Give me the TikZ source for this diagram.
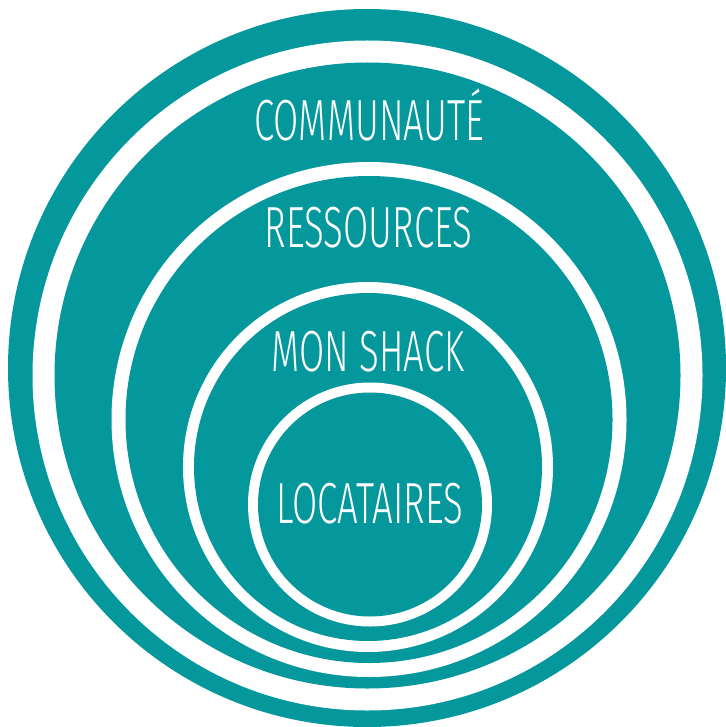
\documentclass[tikz,border=0pt]{standalone}
\usepackage{fontspec}
\newfontfamily\ringfont[FakeStretch=0.63]{Fira Sans Light}
\definecolor{shackteal}{RGB}{4,151,156}

\begin{document}
\begin{tikzpicture}[x=1pt,y=-1pt,
    disk/.style={fill=shackteal},
    gap/.style={fill=white},
    every node/.style={text=white,anchor=base,inner sep=0pt,
        font=\ringfont\fontsize{58}{58}\selectfont}]
    \useasboundingbox (0,0) rectangle (725,727);

    % outer to inner
    \fill[disk] (367,368) circle (359pt);
    \fill[gap]  (367.5,375.5) circle (335pt);
    \fill[disk] (367.5,375.5) circle (313pt);
    \fill[gap]  (369,419.5) circle (257.5pt);
    \fill[disk] (369,419.5) circle (243.5pt);
    \fill[gap]  (368,467) circle (185pt);
    \fill[disk] (368,467) circle (174pt);
    \fill[gap]  (370,504.5) circle (122pt);
    \fill[disk] (370,504.5) circle (112pt);

    \node (communaute) at (369.5,141) {COMMUNAUTÉ};
    \node (ressources) at (368.5,247) {RESSOURCES};
    \node (monshack)   at (368,371)   {MON SHACK};
    \node (locataires) at (370,523)   {LOCATAIRES};
\end{tikzpicture}
\end{document}
